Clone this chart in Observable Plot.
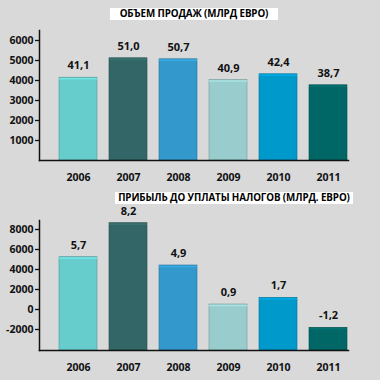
<!DOCTYPE html>
<html>
<head>
<meta charset="utf-8">
<script src="https://cdn.jsdelivr.net/npm/d3@7"></script>
<script src="https://cdn.jsdelivr.net/npm/@observablehq/plot@0.6"></script>
<style>
  html, body { margin: 0; padding: 0; background: #d9d9d9; }
  #wrap { position: relative; width: 380px; height: 380px; overflow: hidden; background: #d9d9d9; font-family: "Open Sans", sans-serif; }
  .title { position: absolute; background: #fff; color: #000; font-weight: 700; font-size: 9.8px; line-height: 12px; text-align: center; white-space: nowrap; letter-spacing: -0.1px; }
  .chart { position: absolute; left: 0; }
</style>
</head>
<body>
<div id="wrap">
  <div class="title" style="left:110px; top:8px; width:168px; height:12px;">ОБЪЕМ ПРОДАЖ (МЛРД ЕВРО)</div>
  <div class="title" style="left:115px; top:192px; width:238px; height:12px;">ПРИБЫЛЬ ДО УПЛАТЫ НАЛОГОВ (МЛРД. ЕВРО)</div>
  <div class="chart" id="top" style="top:0px;"></div>
  <div class="chart" id="bottom" style="top:190px;"></div>
</div>
<script>
const years = ["2006", "2007", "2008", "2009", "2010", "2011"];
const salesValues = [4140, 5110, 5060, 4025, 4310, 3760];
const salesLabels = ["41,1", "51,0", "50,7", "40,9", "42,4", "38,7"];
const salesTicks = [1000, 2000, 3000, 4000, 5000, 6000];
const profitValues = [5230, 8630, 4400, 500, 1170, -1830];
const profitLabels = ["5,7", "8,2", "4,9", "0,9", "1,7", "-1,2"];
const profitTicks = [-2000, 0, 2000, 4000, 6000, 8000];
const barColors = ["#66cccc", "#336666", "#3399cc", "#99cccc", "#0099cc", "#006666"];

const sales = years.map((year, i) => ({year, value: salesValues[i], label: salesLabels[i]}));
const profit = years.map((year, i) => ({year, value: profitValues[i], label: profitLabels[i]}));
const hl = d3.scaleOrdinal(years, barColors.map(c => d3.color(c).brighter(0.3).formatHex()));
const dk = d3.scaleOrdinal(years, barColors.map(c => d3.color(c).darker(0.8).formatHex()));

function chart(data, yDomain, ticks, base) {
  return Plot.plot({
    width: 380, height: 190,
    marginTop: 30, marginBottom: 30, marginLeft: 39, marginRight: 32,
    style: {fontFamily: "'Open Sans', sans-serif", fontSize: "10.5px", fontWeight: "700", background: "transparent", color: "#111"},
    x: {domain: years, paddingInner: 0.25, paddingOuter: 0.215, align: 0.93, label: null},
    y: {domain: yDomain, label: null},
    color: {domain: years, range: barColors},
    marks: [
      Plot.barY(data, {x: "year", y1: base, y2: "value", fill: "year", stroke: d => dk(d.year), strokeWidth: 0.6}),
      Plot.tickY(data, {x: "year", y: "value", stroke: d => hl(d.year), strokeWidth: 1.5, dy: 1}),
      Plot.text(data, {x: "year", y: "value", text: "label", dy: -12, fontSize: 11, fontWeight: 700, fill: "#111"}),
      Plot.axisY({ticks, tickSize: 4, tickPadding: 2, label: null, tickFormat: d => String(d), strokeWidth: 1.3}),
      Plot.axisX({tickSize: 0, tickPadding: 13, label: null}),
      Plot.frame({anchor: "left", stroke: "#111", strokeWidth: 1.5}),
      Plot.frame({anchor: "bottom", stroke: "#111", strokeWidth: 1.5})
    ]
  });
}

document.getElementById("top").appendChild(chart(sales, [0, 6500], salesTicks, 0));
document.getElementById("bottom").appendChild(chart(profit, [-4100, 8900], profitTicks, -4100));
</script>
</body>
</html>
